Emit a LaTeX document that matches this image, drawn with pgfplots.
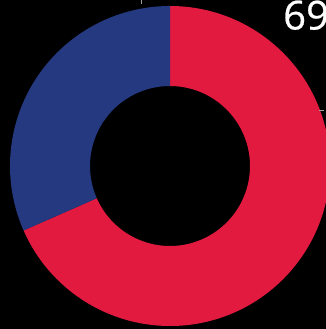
\documentclass[border=0pt]{standalone}
\usepackage{pgfplots}
\usepackage{pgfplotstable}
\pgfplotsset{compat=1.18}
\usepackage{fontspec}
\setmainfont{Open Sans}
\definecolor{donutred}{RGB}{227,26,64}
\definecolor{donutblue}{RGB}{37,57,128}
\definecolor{tickgray}{RGB}{160,160,160}
\pgfplotstableread{
label value
Red 68.4
Blue 31.6
}\donutdata
\begin{document}
\begin{tikzpicture}
\path[use as bounding box, clip] (0,0) rectangle (326pt,329pt);
\pgfplotstablegetelem{0}{value}\of\donutdata \let\vred\pgfplotsretval
\pgfplotstablegetelem{1}{value}\of\donutdata \let\vblue\pgfplotsretval
\pgfmathsetmacro{\total}{\vred+\vblue}
\pgfmathsetmacro{\frac}{\vred/\total}
\pgfmathsetmacro{\redend}{90-360*\frac}
\begin{axis}[
  scale only axis, width=326pt, height=329pt,
  xmin=0, xmax=326, ymin=0, ymax=329,
  hide axis, clip=true,
]
\addplot[draw=none] coordinates {(0,0) (326,329)};
\fill[black] (axis cs:0,0) rectangle (axis cs:326,329);
\coordinate (c) at (axis cs:170,163);
\fill[donutred] ([shift={(90:160pt)}]c) arc[start angle=90, end angle=\redend, radius=160pt]
  -- ([shift={(\redend:80pt)}]c) arc[start angle=\redend, end angle=90, radius=80pt] -- cycle;
\fill[donutblue] ([shift={(90:160pt)}]c) arc[start angle=90, end angle=\redend+360, radius=160pt]
  -- ([shift={(\redend+360:80pt)}]c) arc[start angle=\redend+360, end angle=90, radius=80pt] -- cycle;
\draw[tickgray, line width=1pt] (axis cs:141.5,329) -- (axis cs:141.5,325);
\draw[tickgray, line width=1pt] (axis cs:319,218.5) -- (axis cs:324,218.5);
\node[anchor=base west, text=white, font=\fontsize{40}{40}\selectfont\addfontfeature{FakeBold=0.6}, inner sep=0pt] at (axis cs:283,299.5) {69};
\end{axis}
\end{tikzpicture}
\end{document}
